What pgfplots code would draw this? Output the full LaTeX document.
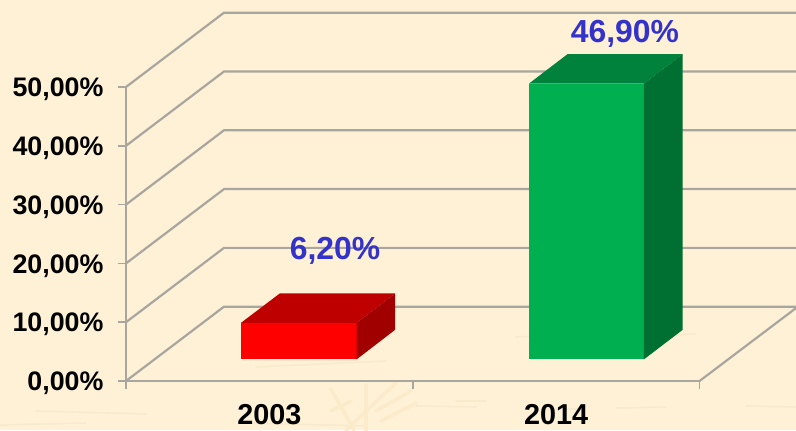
\documentclass[border=0pt]{standalone}
\usepackage{pgfplots}
\usepackage{fontspec}
\setmainfont{Liberation Sans}
\pgfplotsset{compat=1.18}
\definecolor{bgc}{HTML}{FEF1D6}
\definecolor{streak}{HTML}{F8EACD}
\definecolor{wheat}{HTML}{FBEBCA}
\definecolor{gridc}{HTML}{A9A69F}
\definecolor{blue2}{HTML}{3333CC}
\begin{document}
\begin{tikzpicture}[x=1bp,y=1bp]
\fill[bgc,use as bounding box] (-126,-49) rectangle (670,381);
% faint paper texture (px from axis origin)
\begin{scope}[streak,line width=1.6bp,line cap=round]
\draw (-90,-30)--(20,-33); \draw (120,-42)--(240,-45); \draw (290,-25)--(350,-26);
\draw (415,-28)--(455,-28); \draw (490,-27)--(540,-26); \draw (620,-25)--(670,-26);
\draw (-126,-44)--(-40,-42); \draw (130,14)--(260,20); \draw (390,44)--(470,48);
\draw (520,45)--(570,47); \draw (330,-20)--(360,-20);
\end{scope}
\begin{scope}[wheat,line width=3.5bp,line cap=round]
\draw (220,-49)--(270,-2); \draw (240,-49)--(240,-4); \draw (228,-49)--(205,-8);
\draw (250,-30)--(285,-10); \draw (255,-40)--(290,-22); \draw (205,-30)--(225,-20);
\end{scope}
\begin{axis}[
  at={(0,0)},anchor=south west,
  scale only axis,width=573.5bp,height=294bp,
  xmin=0,xmax=2,ymin=0,ymax=50,
  clip=false,
  axis x line*=bottom,axis y line*=left,
  axis line style={draw=gridc,line width=2.2bp,-},
  tick style={draw=gridc,line width=1.5bp},
  tick align=outside,major tick length=8bp,
  xtick={0,1,2},
  x tick label as interval=true,
  xticklabels={2003,2014},
  ytick={0,10,20,30,40,50},
  yticklabels={{0,00\%},{10,00\%},{20,00\%},{30,00\%},{40,00\%},{50,00\%}},
  tick label style={font=\fontsize{26.9}{28}\selectfont\bfseries,text=black},
  yticklabel style={xshift=-11bp,yshift=-2.5bp},
  xticklabel style={yshift=-11.5bp,font=\fontsize{28.9}{30}\selectfont\bfseries},
]
% back wall and floor grid lines
\pgfplotsinvokeforeach{0,10,20,30,40,50}{
  \addplot[draw=gridc,line width=2.2bp,forget plot] coordinates {(0,#1) (0.3418,#1+12.64) (2.3365,#1+12.64)};
}
\addplot[draw=gridc,line width=2.2bp,forget plot] coordinates {(2,0) (2.3365,12.4)};
% 2003 bar: 6.2
\addplot[fill=red,draw=none,forget plot] coordinates {(0.401,3.69) (0.8045,3.69) (0.8045,9.89) (0.401,9.89)} --cycle;
\addplot[fill=red!75!black,draw=none,forget plot] coordinates {(0.401,9.89) (0.8045,9.89) (0.9385,14.91) (0.537,14.91)} --cycle;
\addplot[fill=red!63!black,draw=none,forget plot] coordinates {(0.8045,3.69) (0.9385,8.71) (0.9385,14.91) (0.8045,9.89)} --cycle;
% 2014 bar: 46.9
\addplot[fill={rgb,255:red,0;green,176;blue,80},draw=none,forget plot] coordinates {(1.4054,3.69) (1.8064,3.69) (1.8064,50.59) (1.4054,50.59)} --cycle;
\addplot[fill={rgb,255:red,0;green,130;blue,60},draw=none,forget plot] coordinates {(1.4054,50.59) (1.8064,50.59) (1.9414,55.61) (1.5404,55.61)} --cycle;
\addplot[fill={rgb,255:red,0;green,112;blue,50},draw=none,forget plot] coordinates {(1.8064,3.69) (1.9414,8.71) (1.9414,55.61) (1.8064,50.59)} --cycle;
\node[text=blue2,font=\fontsize{32}{34}\selectfont\bfseries] at (axis cs:0.729,22.2) {6,20\%};
\node[text=blue2,font=\fontsize{32}{34}\selectfont\bfseries] at (axis cs:1.740,59.0) {46,90\%};
\end{axis}
\end{tikzpicture}
\end{document}
